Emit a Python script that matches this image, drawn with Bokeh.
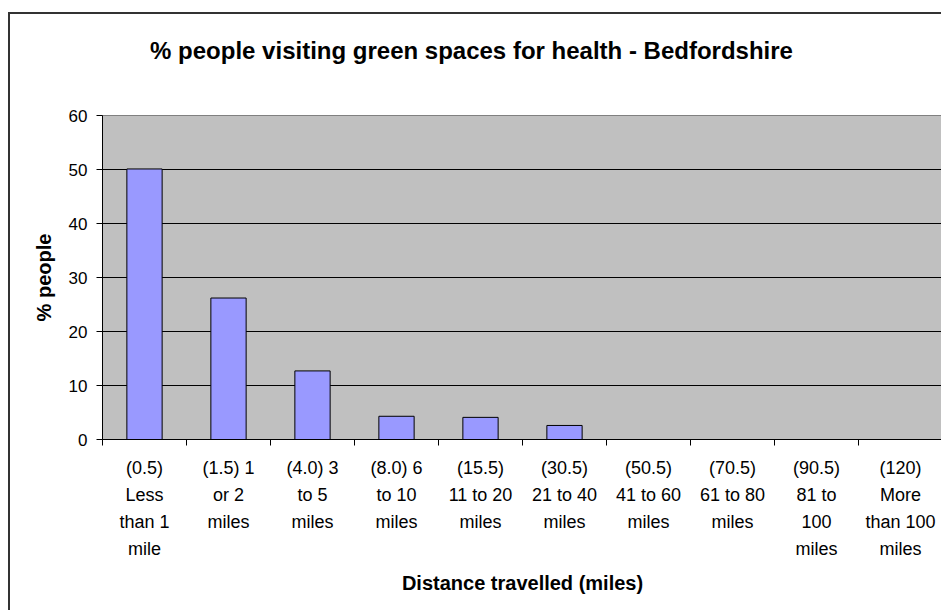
import numpy as np
from bokeh.plotting import figure
from bokeh.models import FixedTicker, LinearAxis, Range1d, ColumnDataSource
from bokeh.embed import file_html
from bokeh.resources import INLINE

# ---- data ----
categories = [
    "(0.5)\nLess\nthan 1\nmile",
    "(1.5) 1\nor 2\nmiles",
    "(4.0) 3\nto 5\nmiles",
    "(8.0) 6\nto 10\nmiles",
    "(15.5)\n11 to 20\nmiles",
    "(30.5)\n21 to 40\nmiles",
    "(50.5)\n41 to 60\nmiles",
    "(70.5)\n61 to 80\nmiles",
    "(90.5)\n81 to\n100\nmiles",
    "(120)\nMore\nthan 100\nmiles",
]
percent_people = [50.1, 26.2, 12.7, 4.3, 4.1, 2.6, 0, 0, 0, 0]
y_ticks = [0, 10, 20, 30, 40, 50, 60]

title_text = "% people visiting green spaces for health - Bedfordshire"
x_title = "Distance travelled (miles)"
y_title = "% people"

FONT = "Liberation Sans"
n = len(categories)
xpos = [i + 0.5 for i in range(n)]
boundaries = list(range(n + 1))

# window offsets of the outer chart border
BL, BT, BW = 8, 12, 2
OX, OY = BL + BW, BT + BW
W, H = 943 - OX, 612 - OY
FRAME_L, FRAME_R = 102, 942          # plot area in window pixels
TITLE_CX = 471                       # title centre (window pixels)

src = ColumnDataSource(dict(x=xpos, top=percent_people))

p = figure(width=W, height=H, output_backend="svg", toolbar_location=None,
           title_location=None,
           x_range=Range1d(0, n), y_range=Range1d(0, 60),
           min_border_left=FRAME_L - OX, min_border_right=1,
           min_border_top=115 - OY, min_border_bottom=612 - 439)
p.margin = (BT, 0, 0, BL)
p.styles = {"border-left": f"{BW}px solid #333333",
            "border-top": f"{BW}px solid #333333"}

p.background_fill_color = "#C0C0C0"
p.border_fill_color = "white"
p.outline_line_color = "#808080"
p.outline_line_width = 1

p.vbar(x="x", top="top", bottom=0, width=0.42, source=src,
       fill_color="#9999FF", line_color="black", line_width=1)

main_xaxis = p.below[0]

# title: drawn as the single label of an axis above the plot area,
# on a pixel range so it is centred over the whole chart
p.extra_x_ranges = {"title": Range1d(FRAME_L, FRAME_R)}
tax = LinearAxis(x_range_name="title", ticker=FixedTicker(ticks=[TITLE_CX]),
                 major_label_overrides={TITLE_CX: title_text})
tax.axis_line_color = None
tax.major_tick_line_color = None
tax.minor_tick_line_color = None
tax.major_tick_out = 0
tax.major_tick_in = 0
tax.minor_tick_out = 0
tax.minor_tick_in = 0
tax.major_label_standoff = 52
tax.major_label_text_font = FONT
tax.major_label_text_font_size = "24px"
tax.major_label_text_font_style = "bold"
tax.major_label_text_color = "black"
p.add_layout(tax, "above")

# y axis
yax = p.left[0]
yax.ticker = FixedTicker(ticks=y_ticks)
yax.minor_tick_line_color = None
yax.major_tick_out = 6
yax.major_tick_in = 0
yax.major_label_standoff = 9
yax.major_label_text_font = FONT
yax.major_label_text_font_size = "17px"
yax.major_label_text_color = "black"
yax.axis_line_color = "black"
yax.axis_label = y_title
yax.axis_label_text_font = FONT
yax.axis_label_text_font_size = "20px"
yax.axis_label_text_font_style = "bold"
yax.axis_label_text_color = "black"
yax.axis_label_standoff = 11
p.ygrid.ticker = FixedTicker(ticks=y_ticks[:-1])
p.ygrid.grid_line_color = "black"
p.ygrid.grid_line_width = 1
p.xgrid.grid_line_color = None

# category labels: one stacked axis per text line
lines = [c.split("\n") for c in categories]
max_lines = max(len(l) for l in lines)
axes = []
for k in range(max_lines):
    ticks = [xpos[i] for i in range(n) if len(lines[i]) > k]
    overrides = {xpos[i]: lines[i][k] for i in range(n) if len(lines[i]) > k}
    if k == 0:
        ax = main_xaxis
        ax.ticker = FixedTicker(ticks=ticks, minor_ticks=boundaries)
        ax.axis_line_color = "black"
        ax.major_tick_line_color = None
        ax.major_tick_out = 0
        ax.major_tick_in = 0
        ax.minor_tick_line_color = "black"
        ax.minor_tick_out = 6
        ax.minor_tick_in = 0
        ax.major_label_standoff = 12
    else:
        ax = LinearAxis(ticker=FixedTicker(ticks=ticks))
        ax.axis_line_color = None
        ax.major_tick_line_color = None
        ax.minor_tick_line_color = None
        ax.major_tick_out = 0
        ax.major_tick_in = 0
        ax.minor_tick_out = 0
        ax.minor_tick_in = 0
        ax.major_label_standoff = 4
        p.add_layout(ax, "below")
    ax.major_label_overrides = overrides
    ax.major_label_text_font = FONT
    ax.major_label_text_font_size = "18px"
    ax.major_label_text_color = "black"
    axes.append(ax)

last = axes[-1]
last.axis_label = x_title
last.axis_label_text_font = FONT
last.axis_label_text_font_size = "20px"
last.axis_label_text_font_style = "bold"
last.axis_label_text_color = "black"
last.axis_label_standoff = 10

open("out.html", "w").write(file_html(p, INLINE))
